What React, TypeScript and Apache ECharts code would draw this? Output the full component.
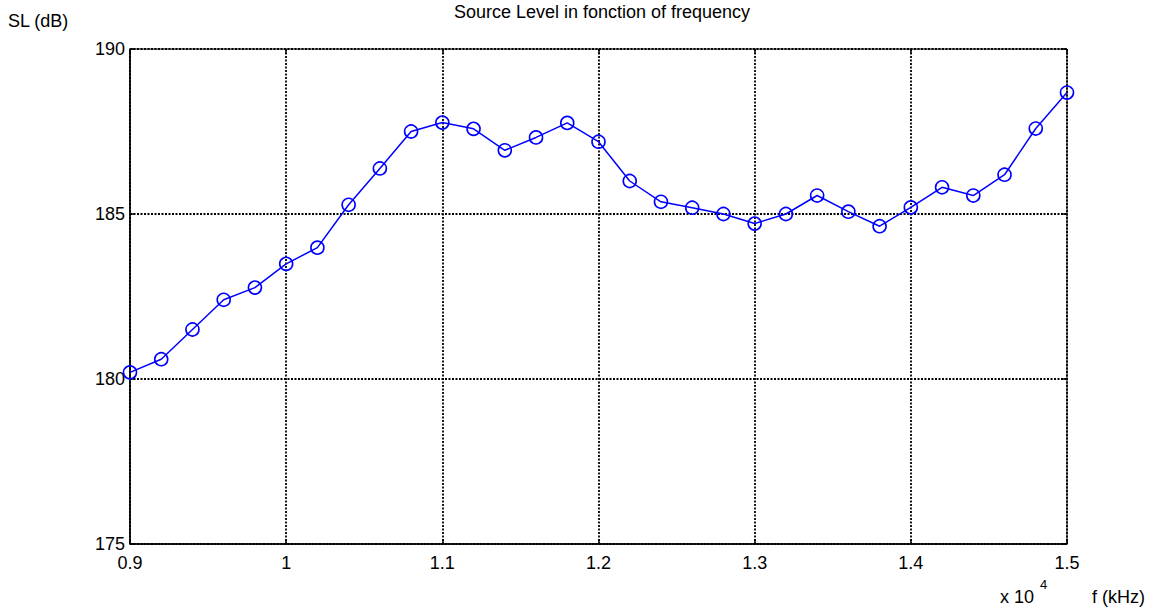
import React, { useEffect, useRef } from "react";
import * as echarts from "echarts";

const freqs = [9000, 9200, 9400, 9600, 9800, 10000, 10200, 10400, 10600, 10800, 11000, 11200, 11400, 11600, 11800, 12000, 12200, 12400, 12600, 12800, 13000, 13200, 13400, 13600, 13800, 14000, 14200, 14400, 14600, 14800, 15000];
const sourceLevel = [180.2, 180.6, 181.5, 182.4, 182.77, 183.49, 183.98, 185.28, 186.38, 187.5, 187.77, 187.58, 186.93, 187.32, 187.76, 187.19, 186.0, 185.37, 185.19, 185.0, 184.71, 185.0, 185.56, 185.07, 184.63, 185.2, 185.81, 185.56, 186.19, 187.59, 188.68];
const titleText = "Source Level in fonction of frequency";
const yName = "SL (dB)";
const xName = "f (kHz)";

const FONT = "'Liberation Sans', Arial, sans-serif";

export default function App() {
  const ref = useRef<HTMLDivElement>(null);
  useEffect(() => {
    if (!ref.current) return;
    const chart = echarts.init(ref.current, null, { renderer: "svg" });
    const data = freqs.map((f, i) => [f, sourceLevel[i]]);
    const gridLine = { show: true, lineStyle: { color: "#000", type: [2, 1.5], width: 1.8 } };
    const tick = { show: true, inside: true, length: 5, lineStyle: { color: "#000", width: 1.5 } };
    chart.setOption({
      animation: false,
      backgroundColor: "#fff",
      title: {
        text: titleText,
        left: 597,
        textAlign: "center",
        top: -2,
        textStyle: { fontFamily: FONT, fontSize: 18, fontWeight: "normal", color: "#000" },
      },
      grid: { left: 130, right: 99, top: 49, bottom: 65, show: true, borderColor: "#000", borderWidth: 1 },
      xAxis: [
        {
          type: "value",
          min: 9000,
          max: 15000,
          interval: 1000,
          axisLine: { show: true, lineStyle: { color: "#000", width: 1.5 } },
          axisTick: tick,
          axisLabel: {
            margin: 10,
            color: "#000",
            fontFamily: FONT,
            fontSize: 18,
            formatter: (v: number) => String(Math.round(v / 100) / 100),
          },
          splitLine: gridLine,
        },
        {
          type: "value",
          position: "top",
          min: 9000,
          max: 15000,
          interval: 1000,
          axisLine: { show: false },
          axisTick: tick,
          axisLabel: { show: false },
          splitLine: { show: false },
        },
      ],
      yAxis: [
        {
          type: "value",
          min: 175,
          max: 190,
          interval: 5,
          axisLine: { show: true, lineStyle: { color: "#000", width: 1.5 } },
          axisTick: tick,
          axisLabel: { margin: 5, color: "#000", fontFamily: FONT, fontSize: 18 },
          splitLine: gridLine,
        },
        {
          type: "value",
          position: "right",
          min: 175,
          max: 190,
          interval: 5,
          axisLine: { show: false },
          axisTick: tick,
          axisLabel: { show: false },
          splitLine: { show: false },
        },
      ],
      graphic: [
        { type: "text", left: 8, top: 12, style: { text: yName, fontFamily: FONT, fontSize: 18, fill: "#000" } },
        { type: "text", left: 1000, top: 588, style: { text: "x 10", fontFamily: FONT, fontSize: 18, fill: "#000" } },
        { type: "text", left: 1040, top: 578, style: { text: "4", fontFamily: FONT, fontSize: 13, fill: "#000" } },
        { type: "text", left: 1092, top: 588, style: { text: xName, fontFamily: FONT, fontSize: 18, fill: "#000" } },
      ],
      series: [
        {
          type: "line",
          data,
          symbol: "circle",
          symbolSize: 13,
          showSymbol: true,
          itemStyle: { color: "rgba(0,0,0,0)", borderColor: "#0000ff", borderWidth: 1.6 },
          lineStyle: { color: "#0000ff", width: 1.5 },
          z: 5,
        },
      ],
    });
    return () => chart.dispose();
  }, []);
  return <div ref={ref} style={{ position: "fixed", left: 0, top: 0, width: 1166, height: 609 }} />;
}
